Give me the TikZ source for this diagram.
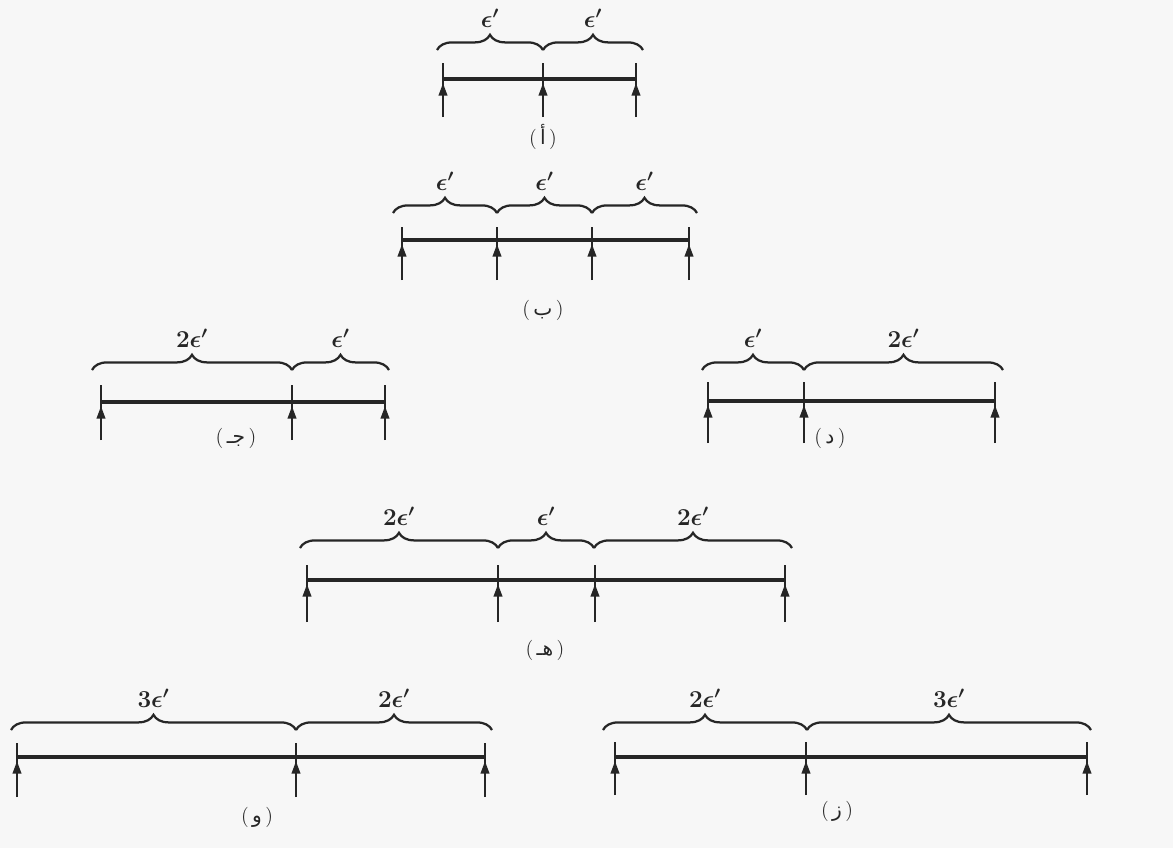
\documentclass[tikz,border=0pt]{standalone}
\usepackage{amsmath,amssymb}
\usepackage{fontspec}
\usepackage{tikz}
\usetikzlibrary{arrows.meta,decorations.pathreplacing}
\newfontfamily\arabicfont[Script=Arabic]{DejaVu Sans}
\TeXXeTstate=1

\begin{document}
\begin{tikzpicture}[x=0.025cm, y=-0.025cm,
    seg/.style={draw=black!85, line width=2.3pt},
    tick/.style={draw=black!85, line width=1.8pt},
    up/.style={draw=black!85, line width=1.8pt, -{Triangle[length=9pt,width=6pt]}},
    brc/.style={draw=black!85, line width=1.6pt, decorate, decoration={brace, amplitude=0.38cm}},
    lab/.style={font=\LARGE\boldmath, text=black!85, midway, above=0.42cm},
    fig/.style={font=\Large, text=black!85}]
  \fill[black!3] (0,0) rectangle (1173,848);
  \useasboundingbox (0,0) rectangle (1173,848);

  % (a) two equal parts
  \foreach \x [count=\i] in {443,543,636} {
    \coordinate (A\i t) at (\x,63);
    \coordinate (A\i l) at (\x,79);
    \coordinate (A\i h) at (\x,83);
    \coordinate (A\i b) at (\x,117);
    \draw[tick] (A\i t) -- (A\i b);
    \draw[up] (A\i b) -- (A\i h);
  }
  \draw[seg] (A1l) -- (A3l);
  \path (437,50) coordinate (Ab0) (543,50) coordinate (Ab1) (643,50) coordinate (Ab2);
  \draw[brc] (Ab0) -- (Ab1) node[lab] (Ae1) {$\epsilon'$};
  \draw[brc] (Ab1) -- (Ab2) node[lab] (Ae2) {$\epsilon'$};
  \node[fig] (Af) at (543,137) {(\,{\arabicfont\beginR أ\endR}\,)};

  % (b) three equal parts
  \foreach \x [count=\i] in {402,497,592,689} {
    \coordinate (B\i t) at (\x,227);
    \coordinate (B\i l) at (\x,240);
    \coordinate (B\i h) at (\x,244);
    \coordinate (B\i b) at (\x,280);
    \draw[tick] (B\i t) -- (B\i b);
    \draw[up] (B\i b) -- (B\i h);
  }
  \draw[seg] (B1l) -- (B4l);
  \path (393,213) coordinate (Bb0) (497,213) coordinate (Bb1)
        (592,213) coordinate (Bb2) (697,213) coordinate (Bb3);
  \draw[brc] (Bb0) -- (Bb1) node[lab] (Be1) {$\epsilon'$};
  \draw[brc] (Bb1) -- (Bb2) node[lab] (Be2) {$\epsilon'$};
  \draw[brc] (Bb2) -- (Bb3) node[lab] (Be3) {$\epsilon'$};
  \node[fig] (Bf) at (543,310) {(\,{\arabicfont\beginR ب\endR}\,)};

  % (c) 2e' + e'
  \foreach \x [count=\i] in {101,292,385} {
    \coordinate (C\i t) at (\x,385);
    \coordinate (C\i l) at (\x,402);
    \coordinate (C\i h) at (\x,406);
    \coordinate (C\i b) at (\x,440);
    \draw[tick] (C\i t) -- (C\i b);
    \draw[up] (C\i b) -- (C\i h);
  }
  \draw[seg] (C1l) -- (C3l);
  \path (92,370) coordinate (Cb0) (292,370) coordinate (Cb1) (389,370) coordinate (Cb2);
  \draw[brc] (Cb0) -- (Cb1) node[lab] (Ce1) {$2\epsilon'$};
  \draw[brc] (Cb1) -- (Cb2) node[lab] (Ce2) {$\epsilon'$};
  \node[fig] (Cf) at (236,438) {(\,{\arabicfont\beginR جـ\endR}\,)};

  % (d) e' + 2e'
  \foreach \x [count=\i] in {708,804,995} {
    \coordinate (D\i t) at (\x,382);
    \coordinate (D\i l) at (\x,401);
    \coordinate (D\i h) at (\x,405);
    \coordinate (D\i b) at (\x,443);
    \draw[tick] (D\i t) -- (D\i b);
    \draw[up] (D\i b) -- (D\i h);
  }
  \draw[seg] (D1l) -- (D3l);
  \path (702,370) coordinate (Db0) (804,370) coordinate (Db1) (1003,370) coordinate (Db2);
  \draw[brc] (Db0) -- (Db1) node[lab] (De1) {$\epsilon'$};
  \draw[brc] (Db1) -- (Db2) node[lab] (De2) {$2\epsilon'$};
  \node[fig] (Df) at (830,438) {(\,{\arabicfont\beginR د\endR}\,)};

  % (e) 2e' + e' + 2e'
  \foreach \x [count=\i] in {307,498,595,785} {
    \coordinate (E\i t) at (\x,565);
    \coordinate (E\i l) at (\x,580);
    \coordinate (E\i h) at (\x,584);
    \coordinate (E\i b) at (\x,622);
    \draw[tick] (E\i t) -- (E\i b);
    \draw[up] (E\i b) -- (E\i h);
  }
  \draw[seg] (E1l) -- (E4l);
  \path (300,548) coordinate (Eb0) (498,548) coordinate (Eb1)
        (594,548) coordinate (Eb2) (792,548) coordinate (Eb3);
  \draw[brc] (Eb0) -- (Eb1) node[lab] (Ee1) {$2\epsilon'$};
  \draw[brc] (Eb1) -- (Eb2) node[lab] (Ee2) {$\epsilon'$};
  \draw[brc] (Eb2) -- (Eb3) node[lab] (Ee3) {$2\epsilon'$};
  \node[fig] (Ef) at (545,650) {(\,{\arabicfont\beginR هـ\endR}\,)};

  % (f) 3e' + 2e'
  \foreach \x [count=\i] in {17,296,485} {
    \coordinate (F\i t) at (\x,743);
    \coordinate (F\i l) at (\x,757);
    \coordinate (F\i h) at (\x,761);
    \coordinate (F\i b) at (\x,797);
    \draw[tick] (F\i t) -- (F\i b);
    \draw[up] (F\i b) -- (F\i h);
  }
  \draw[seg] (F1l) -- (F3l);
  \path (11,730) coordinate (Fb0) (296,730) coordinate (Fb1) (492,730) coordinate (Fb2);
  \draw[brc] (Fb0) -- (Fb1) node[lab] (Fe1) {$3\epsilon'$};
  \draw[brc] (Fb1) -- (Fb2) node[lab] (Fe2) {$2\epsilon'$};
  \node[fig] (Ff) at (257,817) {(\,{\arabicfont\beginR و\endR}\,)};

  % (g) 2e' + 3e'
  \foreach \x [count=\i] in {615,806,1087} {
    \coordinate (G\i t) at (\x,742);
    \coordinate (G\i l) at (\x,757);
    \coordinate (G\i h) at (\x,761);
    \coordinate (G\i b) at (\x,795);
    \draw[tick] (G\i t) -- (G\i b);
    \draw[up] (G\i b) -- (G\i h);
  }
  \draw[seg] (G1l) -- (G3l);
  \path (603,730) coordinate (Gb0) (807,730) coordinate (Gb1) (1091,730) coordinate (Gb2);
  \draw[brc] (Gb0) -- (Gb1) node[lab] (Ge1) {$2\epsilon'$};
  \draw[brc] (Gb1) -- (Gb2) node[lab] (Ge2) {$3\epsilon'$};
  \node[fig] (Gf) at (837,811) {(\,{\arabicfont\beginR ز\endR}\,)};
\end{tikzpicture}
\end{document}
